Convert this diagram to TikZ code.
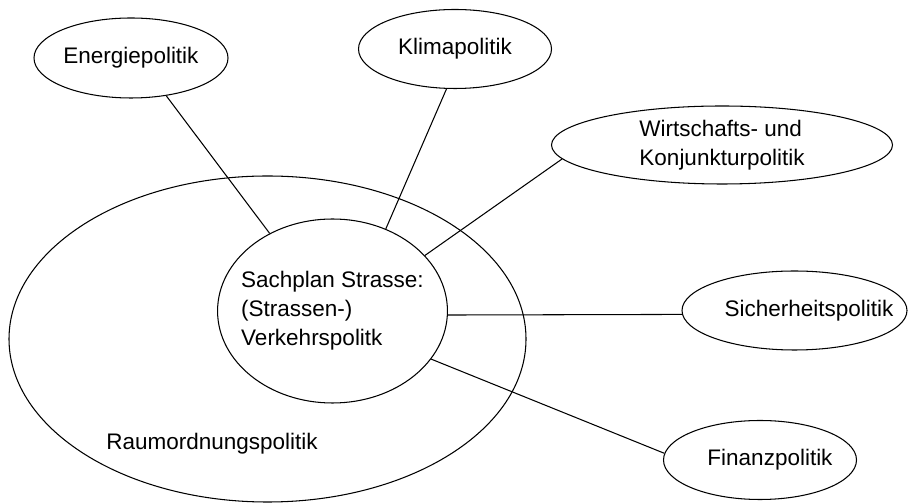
\documentclass[tikz,border=0pt]{standalone}
\usepackage{fontspec}
\setmainfont{Liberation Sans}
\usepackage{tikz}
\usetikzlibrary{shapes.geometric}

\begin{document}
\begin{tikzpicture}[semithick, font=\fontsize{12.8}{16.5}\selectfont, main/.style = {draw, ellipse, inner xsep=-2mm, inner ysep=0pt}]
    \useasboundingbox (0,0) rectangle (18.16,10.08);

    \node [main, minimum width=10.34cm, minimum height=6.52cm] (1) at (5.35, 3.30) {};
    \node (7) at (4.24, 1.20) {Raumordnungspolitik};
    \node [main, minimum width=4.58cm, minimum height=3.68cm, align=left] (0) at (6.65, 3.86) {Sachplan Strasse:\\(Strassen-)\\Verkehrspolitk};
    \node [main, minimum width=3.88cm, minimum height=1.60cm] (2) at (2.62, 8.92) {Energiepolitik};
    \node [main, minimum width=3.86cm, minimum height=1.58cm] (3) at (9.10, 9.10) {Klimapolitik};
    \node [main, minimum width=6.82cm, minimum height=1.56cm, align=left] (4) at (14.44, 7.18) {Wirtschafts- und\\Konjunkturpolitik};
    \node [main, minimum width=4.50cm, minimum height=1.58cm, label={[name=8, xshift=0.29cm]center:Sicherheitspolitik}] (5) at (15.89, 3.87) {};
    \node [main, minimum width=3.86cm, minimum height=1.58cm, label={[name=9, xshift=0.2cm]center:Finanzpolitik}] (6) at (15.20, 0.88) {};

    \draw (2.-47) -- (0.129);
    \draw (3.-102) -- (0.57);
    \draw (4.185) -- (0.31);
    \draw (5.182) -- (0.-2);
    \draw (6.176) -- (0.-26);

\end{tikzpicture}
\end{document}
